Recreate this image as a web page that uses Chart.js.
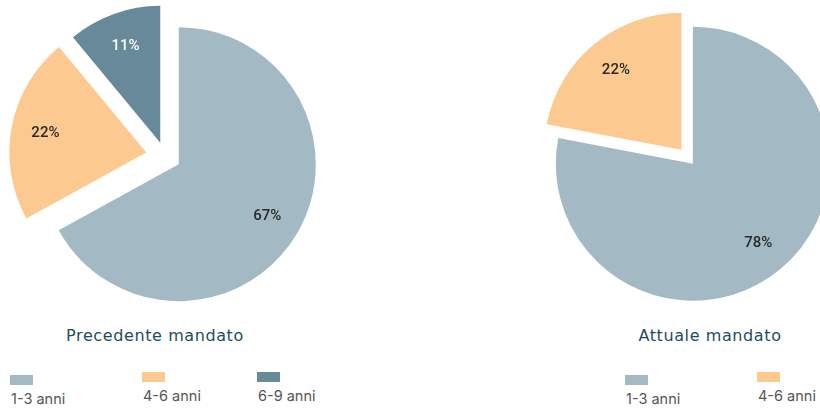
<!DOCTYPE html>
<html>
<head>
<meta charset="utf-8">
<script src="https://cdn.jsdelivr.net/npm/chart.js@4/dist/chart.umd.min.js"></script>
<style>
  html, body { margin: 0; padding: 0; width: 820px; height: 414px; overflow: hidden; background: #fff; }
  #wrap { position: relative; width: 820px; height: 414px; }
  canvas { position: absolute; }
  .ttl { position: absolute; top: 326px; font-family: "DejaVu Sans", sans-serif; font-size: 16px;
         letter-spacing: 0.6px; color: #1d4d5d; text-align: center; width: 260px; }
  .leg { position: absolute; font-family: Inter, sans-serif; font-size: 14.5px; color: #555; }
  .leg .box { display: block; width: 23px; height: 10px; margin-bottom: 5px; }
  .leg .txt { display: block; margin-left: 1px; line-height: 17px; }
</style>
</head>
<body>
<div id="wrap">
  <canvas id="chartPrev" width="330" height="312" style="left:0;top:0"></canvas>
  <canvas id="chartCurr" width="313" height="312" style="left:530px;top:0"></canvas>
  <div class="ttl" id="ttlPrev" style="left:25px"></div>
  <div class="ttl" id="ttlCurr" style="left:580px"></div>
</div>
<script>
// data
var categoriesPrev = ['1-3 anni', '4-6 anni', '6-9 anni'];
var valuesPrev = [67, 22, 11];
var categoriesCurr = ['1-3 anni', '4-6 anni'];
var valuesCurr = [78, 22];
var titles = ['Precedente mandato', 'Attuale mandato'];

var colors = ['#a3b9c3', '#fcca90', '#688999'];
var labelColors = ['#2a2a2a', '#2a2a2a', '#ffffff'];

// pulls every slice out from the centre by a fixed distance (px),
// chart.js own "offset" also grows the radius so it is done here instead
const explode = {
  id: 'explode',
  beforeDatasetsDraw(chart, args, opts) {
    const a = chart.chartArea;
    const cx = (a.left + a.right) / 2;
    const cy = (a.top + a.bottom) / 2;
    chart.getDatasetMeta(0).data.forEach(function(arc, i) {
      const mid = (arc.startAngle + arc.endAngle) / 2;
      const t = opts.dist[i] || 0;
      arc.x = cx + Math.cos(mid) * t;
      arc.y = cy + Math.sin(mid) * t;
    });
  }
};

// draws "NN%" inside each slice
const sliceLabels = {
  id: 'sliceLabels',
  afterDatasetsDraw(chart) {
    const ctx = chart.ctx;
    const meta = chart.getDatasetMeta(0);
    const vals = chart.data.datasets[0].data;
    ctx.save();
    ctx.font = '500 15px Roboto, sans-serif';
    ctx.textAlign = 'center';
    ctx.textBaseline = 'middle';
    meta.data.forEach(function(arc, i) {
      const mid = (arc.startAngle + arc.endAngle) / 2;
      const d = arc.outerRadius * 0.75;
      ctx.fillStyle = labelColors[i];
      ctx.fillText(vals[i] + '%', arc.x + Math.cos(mid) * d, arc.y + Math.sin(mid) * d);
    });
    ctx.restore();
  }
};

function makePie(id, labels, values, dist) {
  return new Chart(document.getElementById(id), {
    type: 'pie',
    data: {
      labels: labels,
      datasets: [{
        data: values,
        backgroundColor: colors.slice(0, values.length),
        borderWidth: 0,
        hoverOffset: 0
      }]
    },
    options: {
      responsive: false,
      animation: false,
      radius: 137,
      events: [],
      layout: { padding: 0 },
      plugins: {
        legend: { display: false },
        tooltip: { enabled: false },
        explode: { dist: dist }
      }
    },
    plugins: [explode, sliceLabels]
  });
}

const chartPrev = makePie('chartPrev', categoriesPrev, valuesPrev, [16, 19, 14]);
const chartCurr = makePie('chartCurr', categoriesCurr, valuesCurr, [10, 8]);

document.getElementById('ttlPrev').textContent = titles[0];
document.getElementById('ttlCurr').textContent = titles[1];

// html legend built from the chart's own legend items
function buildLegend(chart, lefts, tops) {
  const items = chart.options.plugins.legend.labels.generateLabels(chart);
  items.forEach(function(it, i) {
    const d = document.createElement('div');
    d.className = 'leg';
    d.style.left = lefts[i] + 'px';
    d.style.top = tops[i] + 'px';
    const b = document.createElement('span');
    b.className = 'box';
    b.style.background = it.fillStyle;
    const t = document.createElement('span');
    t.className = 'txt';
    t.textContent = it.text;
    d.appendChild(b);
    d.appendChild(t);
    document.getElementById('wrap').appendChild(d);
  });
}
buildLegend(chartPrev, [10, 142, 257], [375, 372, 372]);
buildLegend(chartCurr, [625, 757], [375, 372]);
</script>
</body>
</html>
